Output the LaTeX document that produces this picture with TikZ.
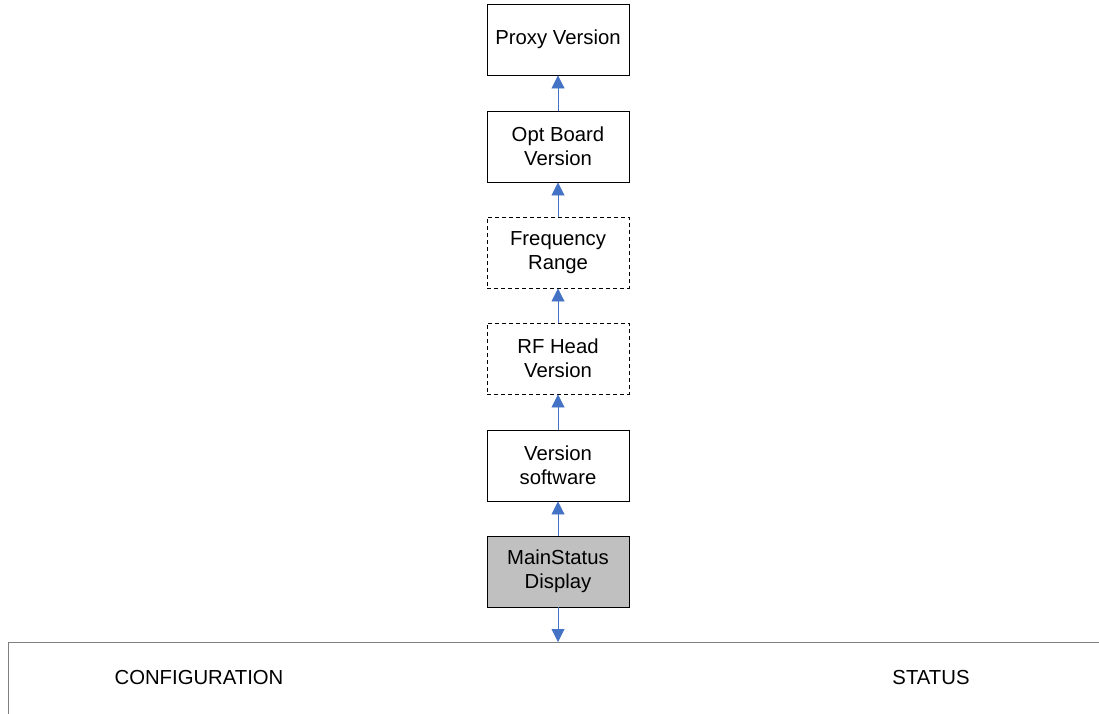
\documentclass[tikz,border=0pt]{standalone}
\usepackage{fontspec}
\setmainfont{Liberation Sans}
\usetikzlibrary{arrows.meta}
\definecolor{arrowblue}{HTML}{4472C4}
\definecolor{panelgray}{HTML}{7F7F7F}
\definecolor{boxgray}{HTML}{C0C0C0}
\tikzset{
  x=1pt,y=-1pt,
  box/.style={draw=black,line width=0.9pt,minimum width=142pt,minimum height=71pt,inner sep=0pt,align=center,font=\fontsize{20.3}{24}\selectfont},
  dbox/.style={box,dash pattern=on 4pt off 3pt},
  conn/.style={draw=arrowblue,line width=0.9pt,-{Triangle[width=13pt,length=13pt]}},
  lbl/.style={font=\fontsize{20.3}{24}\selectfont,inner sep=0pt,anchor=center}
}
\begin{document}
\begin{tikzpicture}
\useasboundingbox (0,0) rectangle (1099,713);
\clip (0,0) rectangle (1099,713);
\node[box] (proxy) at (558,39.5) {Proxy Version};
\node[box] (opt) at (558,146.5) {Opt Board\\Version};
\node[dbox] (freq) at (558,252.5) {Frequency\\Range};
\node[dbox] (rf) at (558,358.5) {RF Head\\Version};
\node[box] (ver) at (558,465.5) {Version\\software};
\node[box,fill=boxgray] (main) at (558,571.5) {MainStatus\\Display};
\node[draw=panelgray,line width=1.4pt,minimum width=1200pt,minimum height=150pt,anchor=north west,inner sep=0pt] (panel) at (8,642) {};
\node[lbl] (config) at (199,677) {CONFIGURATION};
\node[lbl] (status) at (931,677) {STATUS};
\draw[conn] (opt.north) -- (proxy.south);
\draw[conn] (freq.north) -- (opt.south);
\draw[conn] (rf.north) -- (freq.south);
\draw[conn] (ver.north) -- (rf.south);
\draw[conn] (main.north) -- (ver.south);
\draw[conn] (main.south) -- (main.south |- panel.north);
\end{tikzpicture}
\end{document}
